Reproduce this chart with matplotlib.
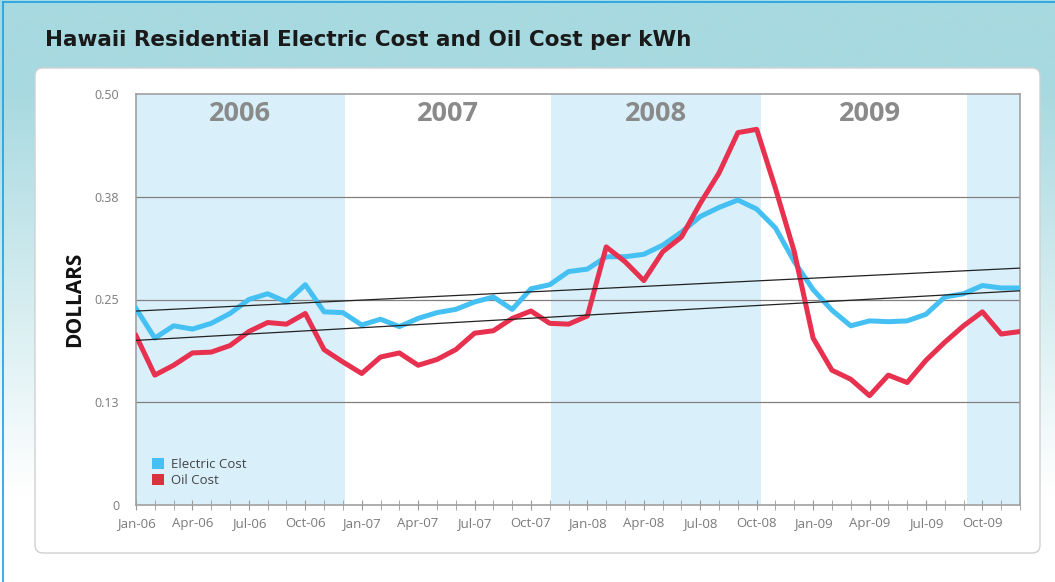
import numpy as np
import matplotlib.pyplot as plt
from matplotlib.patches import FancyBboxPatch, Patch
from matplotlib.lines import Line2D

plt.rcParams['font.family'] = ['Open Sans', 'DejaVu Sans']

# monthly data, Jan-06 .. Dec-09
years = ['06', '07', '08', '09']
month_names = ['Jan', 'Feb', 'Mar', 'Apr', 'May', 'Jun',
               'Jul', 'Aug', 'Sep', 'Oct', 'Nov', 'Dec']
months = [f'{m}-{y}' for y in years for m in month_names]

electric = [0.239, 0.203, 0.218, 0.214, 0.221, 0.233, 0.250, 0.257, 0.247, 0.268, 0.235, 0.234,
            0.219, 0.226, 0.217, 0.227, 0.234, 0.238, 0.247, 0.253, 0.238, 0.263, 0.268, 0.284,
            0.287, 0.302, 0.302, 0.305, 0.316, 0.332, 0.351, 0.362, 0.371, 0.360, 0.337, 0.296,
            0.262, 0.237, 0.218, 0.224, 0.223, 0.224, 0.232, 0.253, 0.257, 0.267, 0.264, 0.264]
oil = [0.206, 0.158, 0.170, 0.185, 0.186, 0.194, 0.211, 0.222, 0.220, 0.233, 0.189, 0.174,
       0.160, 0.180, 0.185, 0.170, 0.177, 0.189, 0.209, 0.212, 0.227, 0.236, 0.221, 0.220,
       0.230, 0.314, 0.296, 0.273, 0.308, 0.326, 0.367, 0.404, 0.453, 0.457, 0.385, 0.308,
       0.203, 0.164, 0.153, 0.133, 0.158, 0.149, 0.176, 0.198, 0.218, 0.235, 0.208, 0.211]

year_labels = ['2006', '2007', '2008', '2009']
band_edges = [0, 11.1, 22.05, 33.25, 44.2, 47]

y_ticks = [0, 0.125, 0.25, 0.375, 0.5]
y_tick_labels = ['0', '0.13', '0.25', '0.38', '0.50']

blue = '#45c0f2'
red = '#e8304f'
shade = '#d9f0fb'

fig = plt.figure(figsize=(10.55, 5.82), dpi=100)

# teal -> white background gradient
bg = fig.add_axes([0, 0, 1, 1], zorder=-3)
t = np.linspace(0, 1, 300)
fade = np.clip((t - 0.15) / 0.7, 0, 1)[:, None]
top_col = np.array([167, 217, 224]) / 255
grad = top_col * (1 - fade) + np.ones(3) * fade
bg.imshow(grad[:, None, :], aspect='auto', extent=[0, 1, 0, 1])
bg.axis('off')

# thin blue frame on left and top
fig.add_artist(Line2D([0.003, 0.003], [0, 0.996], color='#1e9fe0', lw=1.2,
                      transform=fig.transFigure))
fig.add_artist(Line2D([0.003, 1], [0.996, 0.996], color='#1e9fe0', lw=1.2,
                      transform=fig.transFigure))

# white rounded panel
panel = FancyBboxPatch((0.35, 0.29), 10.05, 4.85,
                       boxstyle='round,pad=0,rounding_size=0.08',
                       transform=fig.dpi_scale_trans, facecolor='white',
                       edgecolor='#d0d0d0', lw=1, zorder=-1)
fig.add_artist(panel)

fig.text(45 / 1055, 1 - 40 / 582, 'Hawaii Residential Electric Cost and Oil Cost per kWh',
         fontsize=15.5, fontweight='bold', family='DejaVu Sans', color='#1a1a1a',
         va='center', ha='left')

ax = fig.add_axes([136 / 1055, 1 - 505 / 582, 884 / 1055, 411 / 582])
ax.set_facecolor('white')
x = np.arange(len(months))

# alternating year shading
for i in range(0, len(band_edges) - 1, 2):
    ax.axvspan(band_edges[i], band_edges[i + 1], color=shade, lw=0, zorder=0)

for i, yl in enumerate(year_labels):
    cx = (band_edges[i] + band_edges[i + 1]) / 2 if i < 3 else 39
    ax.text(cx, 0.476, yl, ha='center', va='center', fontsize=19.5,
            fontweight='bold', color='#8a8a8a', zorder=2)

for yv in y_ticks[1:4]:
    ax.axhline(yv, color='#808080', lw=0.9, zorder=1)

ax.plot(x, electric, color=blue, lw=3.6, zorder=3, solid_joinstyle='round')
ax.plot(x, oil, color=red, lw=3.6, zorder=3, solid_joinstyle='round')

# linear trend lines
for series in (electric, oil):
    k, b = np.polyfit(x, series, 1)
    ax.plot(x, k * x + b, color='#222222', lw=0.9, zorder=4)

ax.set_xlim(0, 47)
ax.set_ylim(0, 0.5)
ax.set_yticks(y_ticks)
ax.set_yticklabels(y_tick_labels)
ax.set_xticks(x[::3])
ax.set_xticklabels(months[::3])
ax.set_xticks(x, minor=True)
ax.tick_params(axis='x', which='both', direction='inout', length=7, color='#999999',
               labelsize=9.5, labelcolor='#7a7a7a', pad=5)
ax.tick_params(axis='y', length=0, labelsize=9, labelcolor='#7a7a7a', pad=12)

for side in ['left', 'right', 'top', 'bottom']:
    ax.spines[side].set_color('#a0a0a0')
    ax.spines[side].set_linewidth(1.2)

ax.set_ylabel('DOLLARS', fontsize=15, fontweight='bold', color='#111111', labelpad=7)

handles = [Patch(facecolor=blue, label='Electric Cost'),
           Patch(facecolor='#d8323f', label='Oil Cost')]
ax.legend(handles=handles, loc='lower left', bbox_to_anchor=(0.005, 0.015), frameon=False,
          fontsize=9.5, handlelength=0.9, handleheight=0.9, handletextpad=0.5,
          labelspacing=0.2, labelcolor='#444444')

fig.savefig('out.png', dpi=100)
